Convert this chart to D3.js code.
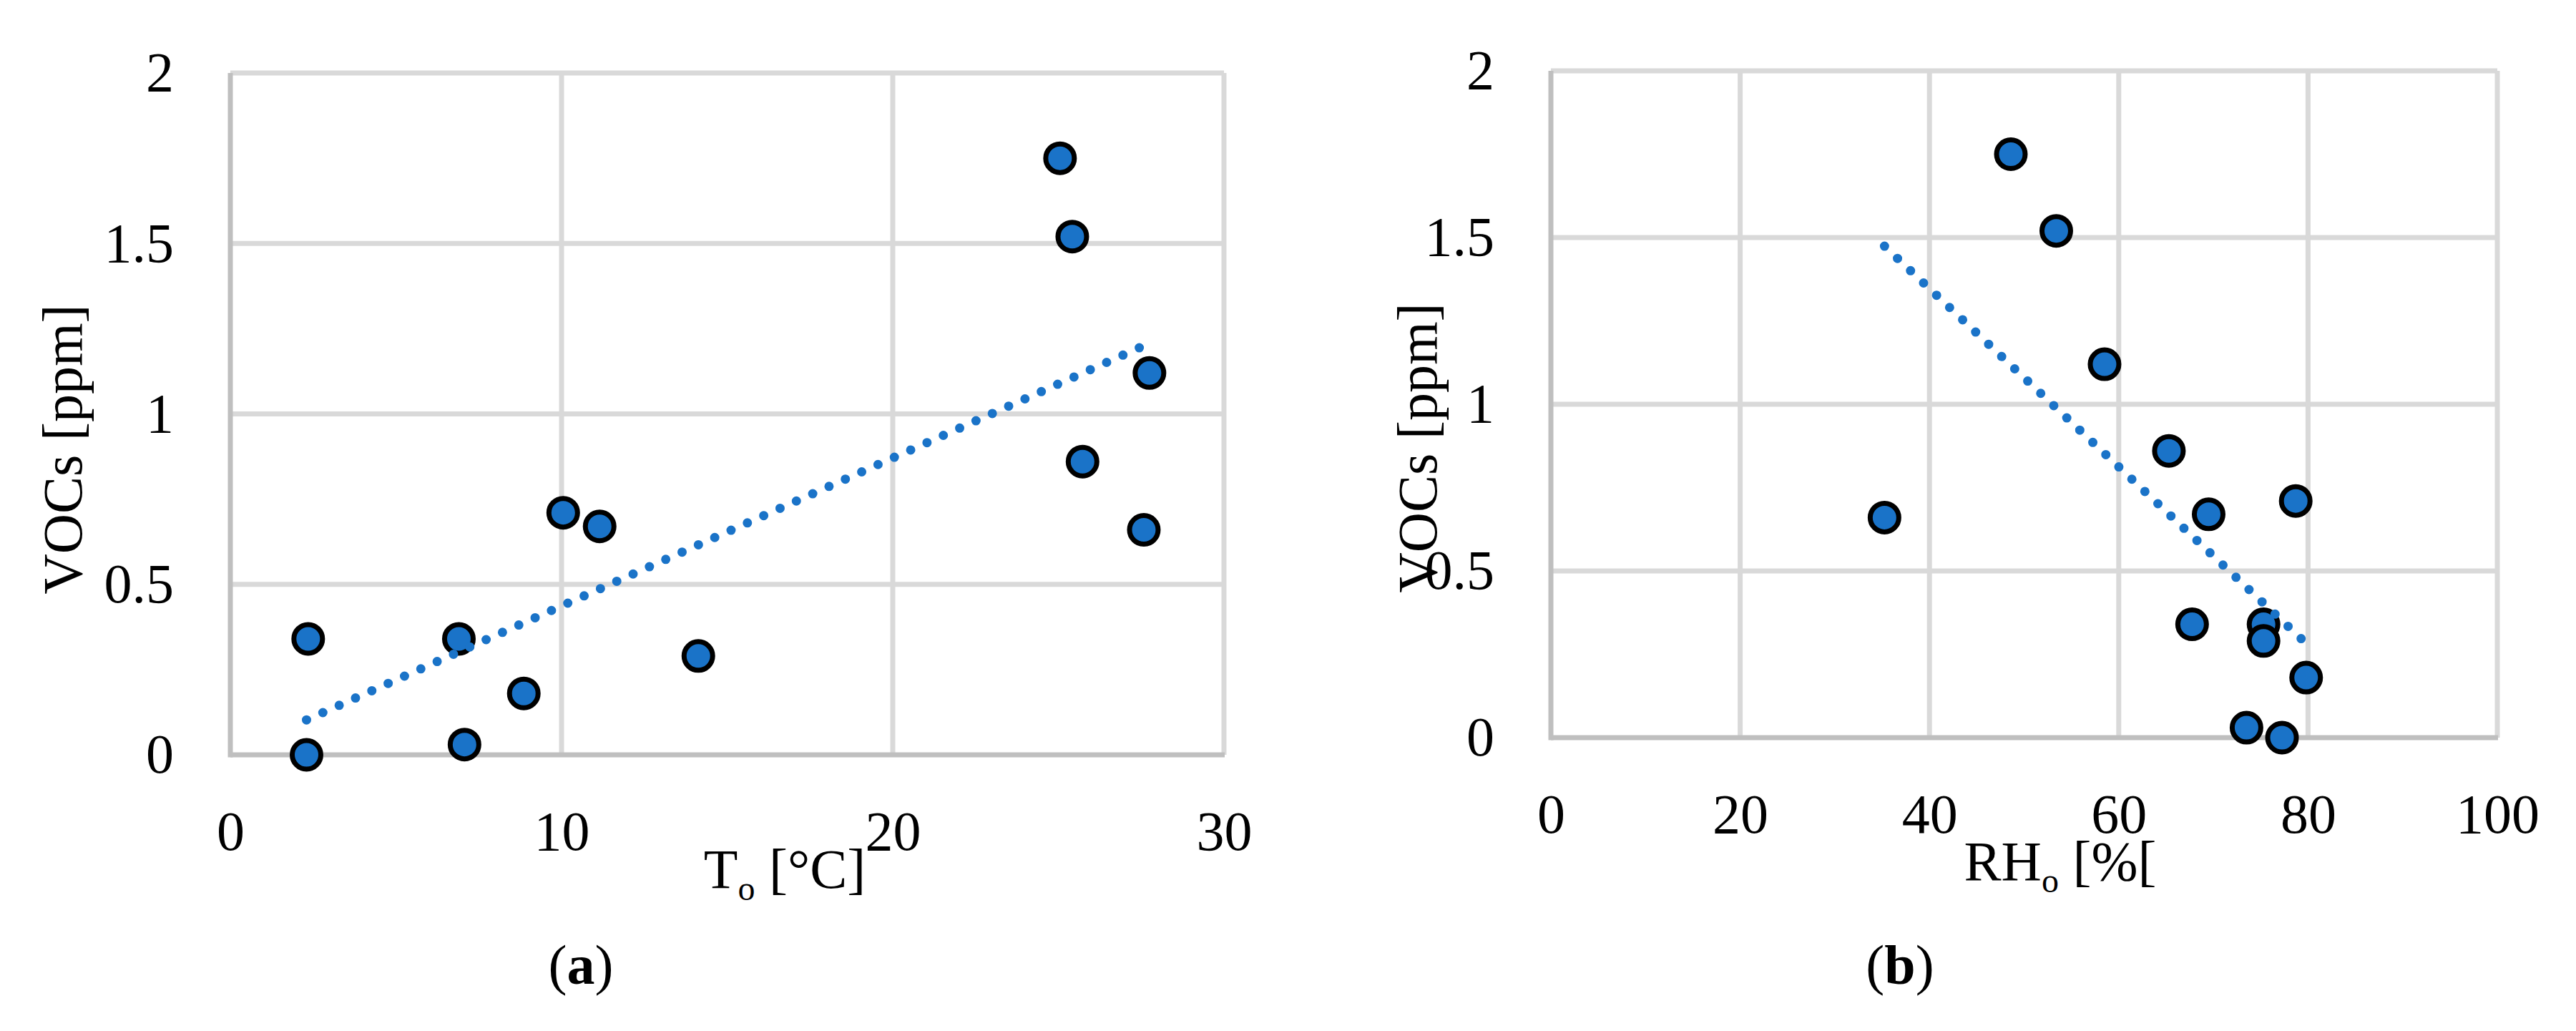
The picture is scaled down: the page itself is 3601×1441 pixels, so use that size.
<!DOCTYPE html>
<html><head><meta charset="utf-8">
<script src="https://cdn.jsdelivr.net/npm/d3@7"></script>
<style>html,body{margin:0;padding:0;background:#fff;} svg{display:block;}</style>
</head><body>
<svg id="chart" width="3601" height="1441"></svg>
<script>
// ---- data ----
const tempA = [2.3, 2.35, 6.9, 7.07, 8.86, 10.05, 11.15, 14.13, 25.05, 25.42, 25.73, 27.58, 27.75];
const vocA  = [0, 0.34, 0.34, 0.03, 0.18, 0.71, 0.67, 0.29, 1.75, 1.52, 0.86, 0.66, 1.12];
const rhB   = [35.25, 48.6, 53.4, 58.5, 65.3, 69.5, 67.75, 73.5, 75.3, 75.3, 77.25, 78.7, 79.8];
const vocB  = [0.66, 1.75, 1.52, 1.12, 0.86, 0.67, 0.34, 0.03, 0.34, 0.29, 0, 0.71, 0.18];
const xTicksA = [0, 10, 20, 30];
const xTicksB = [0, 20, 40, 60, 80, 100];
const yTicks  = [0, 0.5, 1, 1.5, 2];

const FONT = "'Liberation Serif','Times New Roman',serif";
const BLUE = "#1A73C8";
const FS = 78;
const svg = d3.select("#chart");
svg.append("rect").attr("width", 3601).attr("height", 1441).attr("fill", "#fff");

function linfit(xs, ys) {
  const mx = d3.mean(xs), my = d3.mean(ys);
  let sxy = 0, sxx = 0;
  xs.forEach((v, i) => { sxy += (v - mx) * (ys[i] - my); sxx += (v - mx) * (v - mx); });
  const b = sxy / sxx;
  return { b, a: my - b * mx };
}

function panel(o) {
  const x = d3.scaleLinear().domain([0, o.xTicks[o.xTicks.length - 1]]).range([o.left, o.right]);
  const y = d3.scaleLinear().domain([0, 2]).range([o.bottom, o.top]);
  const g = svg.append("g");

  // gridlines
  g.selectAll("line.hg").data(yTicks.filter(d => d > 0)).join("line")
    .attr("class", "hg")
    .attr("x1", o.left).attr("x2", o.right)
    .attr("y1", d => y(d)).attr("y2", d => y(d))
    .attr("stroke", "#D9D9D9").attr("stroke-width", 7);
  g.selectAll("line.vg").data(o.xTicks.filter(d => d > 0)).join("line")
    .attr("class", "vg")
    .attr("x1", d => x(d)).attr("x2", d => x(d))
    .attr("y1", o.top).attr("y2", o.bottom)
    .attr("stroke", "#D9D9D9").attr("stroke-width", 7);
  // axis lines
  g.append("line").attr("x1", x(0)).attr("x2", x(0)).attr("y1", o.top).attr("y2", o.bottom + 3.5)
    .attr("stroke", "#BFBFBF").attr("stroke-width", 7);
  g.append("line").attr("x1", x(0)).attr("x2", o.right + 1).attr("y1", y(0)).attr("y2", y(0))
    .attr("stroke", "#BFBFBF").attr("stroke-width", 7);

  // tick labels
  const fmt = d3.format("~g");
  const ax = g.append("g").attr("transform", `translate(0,${o.bottom})`)
    .call(d3.axisBottom(x).tickValues(o.xTicks).tickSize(0).tickPadding(78).tickFormat(fmt));
  ax.select(".domain").remove();
  ax.selectAll("text").attr("font-family", FONT).attr("font-size", FS).attr("fill", "#000");
  const ay = g.append("g").attr("transform", `translate(${o.left},0)`)
    .call(d3.axisLeft(y).tickValues(yTicks).tickSize(0).tickPadding(79).tickFormat(fmt));
  ay.select(".domain").remove();
  ay.selectAll("text").attr("font-family", FONT).attr("font-size", FS).attr("fill", "#000");

  // points
  g.selectAll("circle.pt").data(o.xs.map((v, i) => [v, o.ys[i]])).join("circle")
    .attr("class", "pt")
    .attr("cx", d => x(d[0])).attr("cy", d => y(d[1])).attr("r", 20)
    .attr("fill", BLUE).attr("stroke", "#000").attr("stroke-width", 7);

  // linear trendline (dotted)
  const f = linfit(o.xs, o.ys);
  const x0 = d3.min(o.xs), x1 = d3.max(o.xs);
  g.append("line")
    .attr("x1", x(x0)).attr("y1", y(f.a + f.b * x0))
    .attr("x2", x(x1)).attr("y2", y(f.a + f.b * x1))
    .attr("stroke", BLUE).attr("stroke-width", 13)
    .attr("stroke-linecap", "round").attr("stroke-dasharray", "0 25");

  // y title
  g.append("text").attr("transform", `translate(${o.yTitleX},${o.yTitleY}) rotate(-90)`)
    .attr("text-anchor", "middle").attr("font-family", FONT).attr("font-size", FS).attr("fill", "#000")
    .text("VOCs [ppm]");

  // x title with subscript
  const t = g.append("text").attr("x", o.xTitleX).attr("y", o.xTitleY)
    .attr("text-anchor", "middle").attr("font-family", FONT).attr("font-size", FS).attr("fill", "#000");
  t.append("tspan").text(o.xMain);
  t.append("tspan").attr("font-size", 48).attr("dy", 17).text("o");
  t.append("tspan").attr("dy", -17).text(o.xRest);

  // panel label
  const l = g.append("text").attr("x", o.labX).attr("y", 1375)
    .attr("text-anchor", "middle").attr("font-family", FONT).attr("font-size", FS).attr("fill", "#000");
  l.append("tspan").text("(");
  l.append("tspan").attr("font-weight", "bold").text(o.lab);
  l.append("tspan").text(")");
}

panel({ left: 322, right: 1711, top: 102, bottom: 1055, xTicks: xTicksA, xs: tempA, ys: vocA,
  yTitleX: 114, yTitleY: 628, xTitleX: 1097, xTitleY: 1241, xMain: "T", xRest: " [°C]", labX: 812, lab: "a" });
panel({ left: 2168, right: 3491, top: 99, bottom: 1031, xTicks: xTicksB, xs: rhB, ys: vocB,
  yTitleX: 2008, yTitleY: 626, xTitleX: 2880, xTitleY: 1230, xMain: "RH", xRest: " [%[", labX: 2656, lab: "b" });
</script>
</body></html>
